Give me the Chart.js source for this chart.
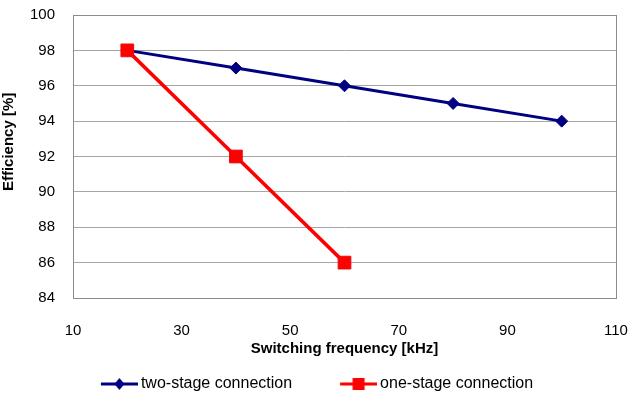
<!DOCTYPE html>
<html>
<head>
<meta charset="utf-8">
<script src="https://cdn.jsdelivr.net/npm/chart.js@4"></script>
<style>
  html, body { margin:0; padding:0; background:#fff; }
  #wrap { width:630px; height:399px; }
</style>
</head>
<body>
<div id="wrap"><canvas id="c" width="630" height="399"></canvas></div>
<script>
// data
const twoStageFreq = [20, 40, 60, 80, 100];
const twoStageEff = [98, 97, 96, 95, 94];
const oneStageFreq = [20, 40, 60];
const oneStageEff = [98, 92, 86];
const seriesNames = ['two-stage connection', 'one-stage connection'];

const NAVY = '#000080', RED = '#ff0000';
const FONT = "'Liberation Sans', Arial, sans-serif";
const LEGEND_GAP = 48;

function pts(xs, ys) { return xs.map((x, i) => ({ x: x, y: ys[i] })); }

// legend icon: line with the marker in the middle, drawn a bit wider than the
// legend box so the text sits close to it
function legendIcon(color, shape) {
  const cv = document.createElement('canvas');
  cv.width = 42; cv.height = 14;
  const g = cv.getContext('2d');
  g.strokeStyle = color; g.lineWidth = 3;
  g.beginPath(); g.moveTo(5, 7); g.lineTo(42, 7); g.stroke();
  g.fillStyle = color;
  const cx = 23.5;
  if (shape === 'diamond') {
    g.beginPath(); g.moveTo(cx, 1); g.lineTo(cx + 5, 7); g.lineTo(cx, 13); g.lineTo(cx - 5, 7); g.closePath(); g.fill();
  } else {
    g.fillRect(cx - 6, 1, 12, 12);
  }
  return cv;
}

// border round the plot area
const frame = {
  id: 'frame',
  afterDatasetsDraw(chart) {
    const a = chart.chartArea, ctx = chart.ctx;
    ctx.save();
    ctx.strokeStyle = '#8c8c8c'; ctx.lineWidth = 1;
    ctx.strokeRect(Math.round(a.left) + 0.5, Math.round(a.top) + 0.5, Math.round(a.right - a.left), Math.round(a.bottom - a.top));
    ctx.restore();
  }
};

// wide gap between legend items without a tall legend box
const legendFit = {
  id: 'legendFit',
  afterInit(chart) {
    const lg = chart.legend;
    const fit = lg.fit.bind(lg);
    lg.fit = function () { fit(); this.height = 31; };
  },
  afterLayout(chart) {
    const lg = chart.legend;
    lg.top -= LEGEND_GAP - 8;
    lg.left += 9; lg.right += 9;
  }
};

new Chart(document.getElementById('c'), {
  type: 'line',
  data: {
    datasets: [
      {
        label: seriesNames[0], data: pts(twoStageFreq, twoStageEff),
        borderColor: NAVY, backgroundColor: NAVY, borderWidth: 3,
        pointStyle: 'rectRot', pointRadius: 6, pointHoverRadius: 6,
        pointBackgroundColor: NAVY, pointBorderColor: NAVY, pointBorderWidth: 1,
        order: 1, tension: 0
      },
      {
        label: seriesNames[1], data: pts(oneStageFreq, oneStageEff),
        borderColor: RED, backgroundColor: RED, borderWidth: 3.5,
        pointStyle: 'rect', pointRadius: 9, pointHoverRadius: 9,
        pointBackgroundColor: RED, pointBorderColor: '#e41010', pointBorderWidth: 1,
        order: 0, tension: 0
      }
    ]
  },
  options: {
    responsive: false, animation: false,
    layout: { padding: { left: 0, right: 14, top: 15, bottom: 0 } },
    scales: {
      x: {
        type: 'linear', min: 10, max: 110,
        ticks: { stepSize: 20, padding: 24, color: '#000', font: { family: FONT, size: 15 } },
        grid: { display: false, drawTicks: false },
        border: { display: false },
        title: { display: true, text: 'Switching frequency [kHz]', color: '#000',
                 font: { family: FONT, size: 15, weight: 'bold' }, padding: { top: 0, bottom: 10 } },
        afterFit(s) { s.height = 70; s.paddingLeft = 0; s.paddingRight = 0; }
      },
      y: {
        min: 84, max: 100,
        ticks: { stepSize: 2, padding: 18, color: '#000', font: { family: FONT, size: 15 } },
        grid: { color: '#a6a6a6', drawTicks: false, lineWidth: 1 },
        border: { display: false },
        title: { display: true, text: '       Efficiency [%]', color: '#000',
                 font: { family: FONT, size: 15, weight: 'bold' }, padding: { top: 0, bottom: 7 } },
        afterFit(s) { s.width = 73; s.paddingTop = 0; s.paddingBottom = 0; }
      }
    },
    plugins: {
      tooltip: { enabled: false },
      legend: {
        position: 'bottom',
        labels: {
          usePointStyle: true,
          pointStyleWidth: 32,
          color: '#000',
          font: { family: FONT, size: 16 },
          padding: LEGEND_GAP,
          sort: (a, b) => a.datasetIndex - b.datasetIndex,
          generateLabels(chart) {
            return chart.data.datasets.map((ds, i) => ({
              text: ds.label, datasetIndex: i, fontColor: '#000',
              pointStyle: legendIcon(ds.borderColor, i === 0 ? 'diamond' : 'square'),
              hidden: false, lineWidth: 0
            }));
          }
        }
      }
    }
  },
  plugins: [frame, legendFit]
});
</script>
</body>
</html>
